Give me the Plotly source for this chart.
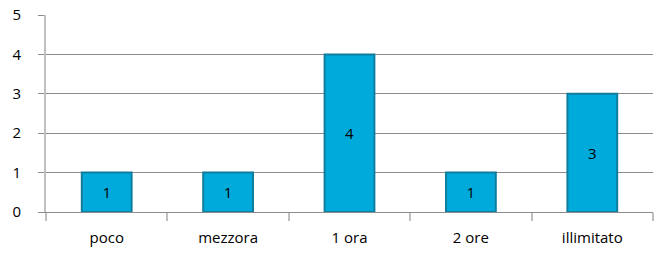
import plotly.graph_objects as go

categories = ["poco", "mezzora", "1 ora", "2 ore", "illimitato"]
values = [1, 1, 4, 1, 3]
y_ticks = [0, 1, 2, 3, 4, 5]

fig = go.Figure(go.Bar(
    x=categories, y=values, text=[str(v) for v in values],
    textposition="inside", insidetextanchor="middle",
    textfont=dict(family="Open Sans, sans-serif", size=15, color="black"),
    marker=dict(color="#00aadb", line=dict(color="#0f7d9e", width=2)),
    width=0.41,
))
fig.update_layout(
    width=658, height=253,
    margin=dict(l=46, r=5, t=15, b=41),
    plot_bgcolor="white", paper_bgcolor="white",
    showlegend=False,
    font=dict(family="Open Sans, sans-serif", size=15, color="black"),
)
fig.update_yaxes(
    range=[0, 5], tickvals=y_ticks, showgrid=True, gridcolor="#8c8c8c", gridwidth=1,
    ticks="outside", ticklen=6, tickcolor="#8c8c8c", showline=True, linecolor="#c0c0c0",
    linewidth=2, zeroline=False, ticklabelstandoff=14, automargin=False,
)
fig.update_xaxes(
    tickson="boundaries", ticks="outside", ticklen=8, tickcolor="#c0c0c0", tickwidth=2,
    showline=True, linecolor="#8c8c8c", linewidth=1, ticklabelstandoff=12, automargin=False,
)
fig.write_html("out.html", config={"displayModeBar": False},
               post_script="document.body.style.margin='0';")
